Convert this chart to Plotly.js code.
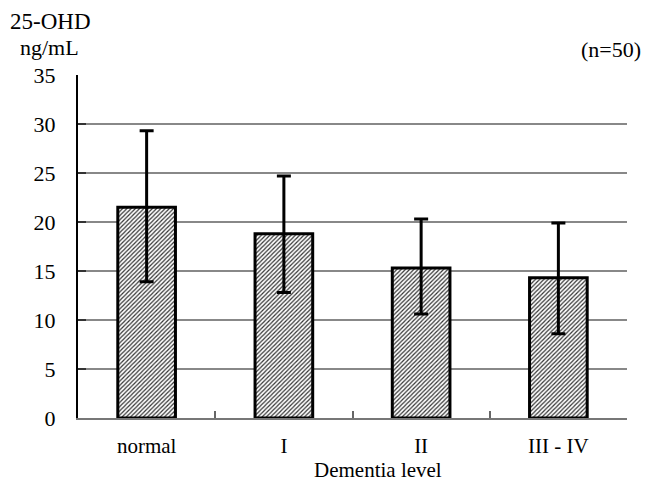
<!DOCTYPE html>
<html>
<head>
<meta charset="utf-8">
<script src="https://cdn.plot.ly/plotly-3.0.1.min.js"></script>
<style>html,body{margin:0;padding:0;background:#fff;}#chart{width:646px;height:482px;}</style>
</head>
<body>
<div id="chart"></div>
<script>
const categories = ["normal", "I", "II", "III - IV"];
const means = [21.5, 18.8, 15.3, 14.3];
const upper = [29.3, 24.7, 20.3, 19.9];
const lower = [13.9, 12.8, 10.6, 8.6];
const yTicks = [0, 5, 10, 15, 20, 25, 30, 35];
const gridVals = [5, 10, 15, 20, 25, 30];

const serif = "Liberation Serif";

const trace = {
  type: "bar",
  x: categories,
  y: means,
  width: 0.42,
  marker: {
    color: "#ffffff",
    line: {color: "#000000", width: 3},
    pattern: {shape: "/", size: 3, solidity: 0.4, fgcolor: "#333333", bgcolor: "#ffffff"}
  },
  error_y: {
    type: "data",
    symmetric: false,
    array: upper.map((u, i) => u - means[i]),
    arrayminus: lower.map((l, i) => means[i] - l),
    color: "#000000",
    thickness: 3,
    width: 7
  },
  hoverinfo: "none"
};

const layout = {
  width: 646,
  height: 482,
  margin: {l: 77.5, r: 19, t: 75, b: 64.3},
  paper_bgcolor: "#ffffff",
  plot_bgcolor: "#ffffff",
  showlegend: false,
  font: {family: serif, size: 22, color: "#000000"},
  xaxis: {
    type: "category",
    showline: true,
    linecolor: "#777777",
    linewidth: 2,
    ticks: "inside",
    tickson: "boundaries",
    ticklen: 7,
    tickwidth: 2,
    tickcolor: "#666666",
    showgrid: false,
    zeroline: false,
    ticklabelstandoff: 8,
    tickfont: {family: serif, size: 21, color: "#000000"}
  },
  yaxis: {
    range: [0, 35],
    tickmode: "array",
    tickvals: yTicks,
    ticktext: yTicks.map(String),
    showline: true,
    linecolor: "#000000",
    linewidth: 2,
    ticks: "inside",
    ticklen: 8,
    tickwidth: 2,
    tickcolor: "#333333",
    showgrid: false,
    zeroline: false,
    ticklabelstandoff: 16,
    tickfont: {family: serif, size: 22, color: "#000000"},
    minor: {
      tickmode: "array",
      tickvals: gridVals,
      ticks: "",
      showgrid: true,
      gridcolor: "#888888",
      gridwidth: 1.5
    }
  },
  annotations: [
    {text: "25-OHD", xref: "paper", yref: "paper", x: -0.1283, y: 1.1547, xanchor: "left", yanchor: "middle", showarrow: false, font: {family: serif, size: 23, color: "#000"}},
    {text: "ng/mL", xref: "paper", yref: "paper", x: -0.1101, y: 1.0788, xanchor: "left", yanchor: "middle", showarrow: false, font: {family: serif, size: 22, color: "#000"}},
    {text: "(n=50)", xref: "paper", yref: "paper", x: 1.029, y: 1.0729, xanchor: "right", yanchor: "middle", showarrow: false, font: {family: serif, size: 22, color: "#000"}},
    {text: "Dementia level", xref: "paper", yref: "paper", x: 0.547, y: -0.1526, xanchor: "center", yanchor: "middle", showarrow: false, borderpad: 0, font: {family: serif, size: 21, color: "#000"}}
  ]
};

Plotly.newPlot("chart", [trace], layout, {displayModeBar: false, staticPlot: true});
</script>
</body>
</html>
